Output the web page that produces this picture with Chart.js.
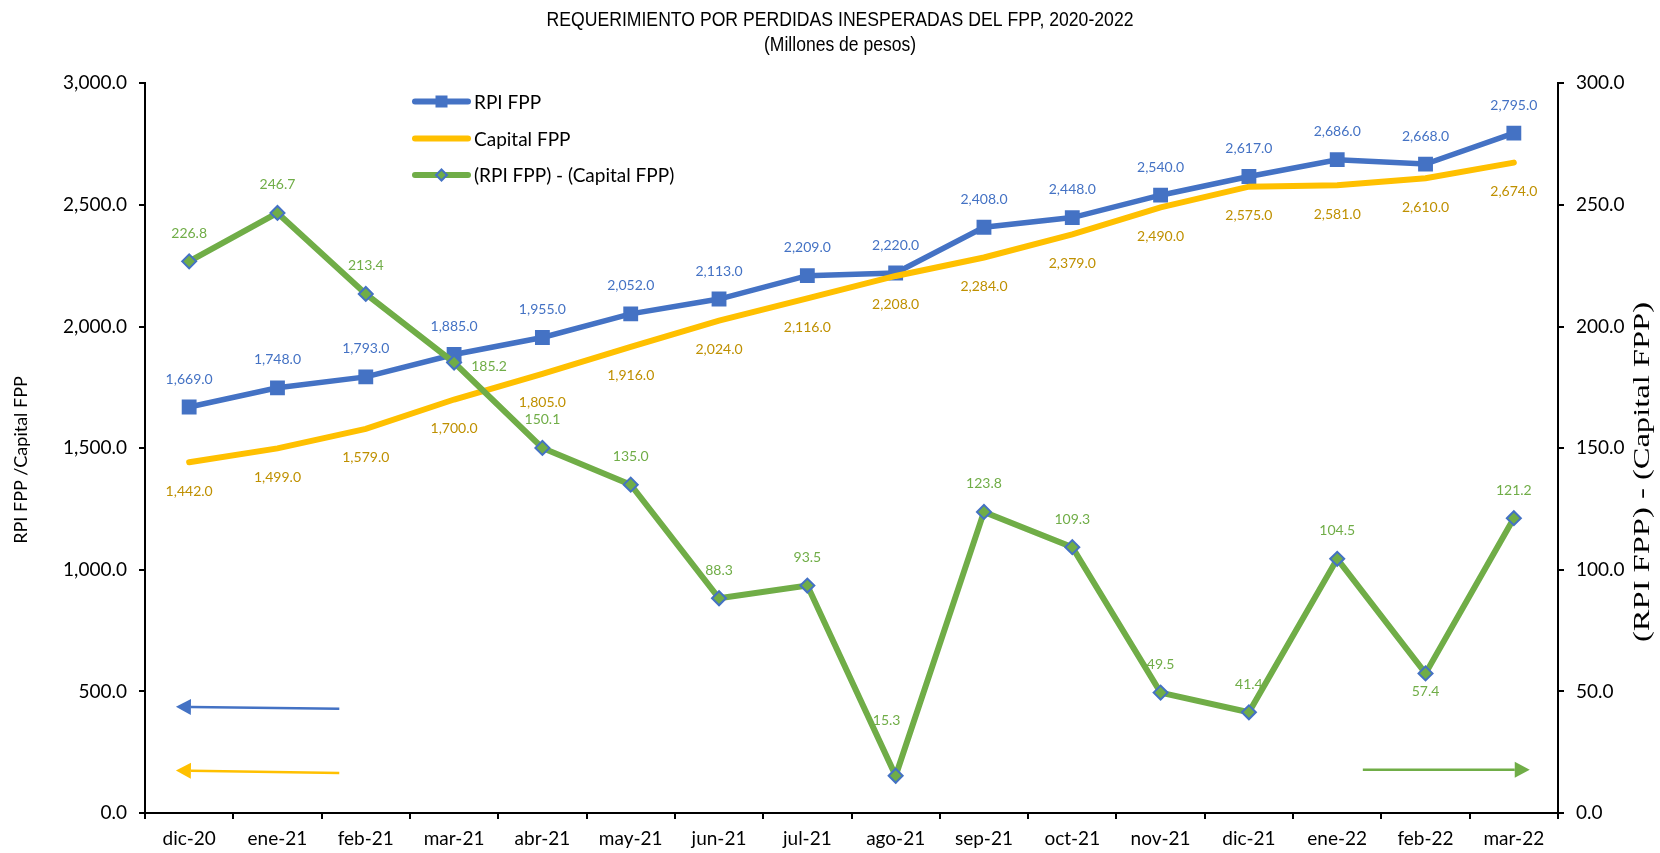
<!DOCTYPE html>
<html>
<head>
<meta charset="utf-8">
<script src="https://cdn.jsdelivr.net/npm/chart.js@4.4.1/dist/chart.umd.min.js"></script>
<style>
  html, body { margin: 0; padding: 0; background: #ffffff; }
  #wrap { width: 1660px; height: 853px; position: relative; }
</style>
</head>
<body>
<div id="wrap"><canvas id="c" width="1660" height="853"></canvas></div>
<script>
// ---- Data ----
const categories = ['dic-20','ene-21','feb-21','mar-21','abr-21','may-21','jun-21','jul-21','ago-21','sep-21','oct-21','nov-21','dic-21','ene-22','feb-22','mar-22'];
const rpiFPP = [1669, 1748, 1793, 1885, 1955, 2052, 2113, 2209, 2220, 2408, 2448, 2540, 2617, 2686, 2668, 2795];
const capitalFPP = [1442, 1499, 1579, 1700, 1805, 1916, 2024, 2116, 2208, 2284, 2379, 2490, 2575, 2581, 2610, 2674];
const diffFPP = [226.8, 246.7, 213.4, 185.2, 150.1, 135.0, 88.3, 93.5, 15.3, 123.8, 109.3, 49.5, 41.4, 104.5, 57.4, 121.2];
const seriesNames = ['RPI FPP', 'Capital FPP', '(RPI FPP) - (Capital FPP)'];
const leftTicks = [0, 500, 1000, 1500, 2000, 2500, 3000];
const rightTicks = [0, 50, 100, 150, 200, 250, 300];
const titleText = 'REQUERIMIENTO POR PERDIDAS INESPERADAS DEL FPP, 2020-2022';
const subtitleText = '(Millones de pesos)';
const leftAxisTitle = 'RPI FPP /Capital FPP';
const rightAxisTitle = '(RPI FPP) - (Capital FPP)';

const BLUE = '#4472C4', GOLD = '#FFC000', GREEN = '#70AD47', GOLD_TXT = '#BF9000';
const FONT = 'Lato, "Open Sans", sans-serif';

const fmt = v => v.toLocaleString('en-US', {minimumFractionDigits: 1, maximumFractionDigits: 1});

// ---- Data label plugin ----
const labelPlugin = {
  id: 'valueLabels',
  afterDatasetsDraw(chart) {
    const ctx = chart.ctx;
    ctx.save();
    ctx.font = '14px ' + FONT;
    ctx.textAlign = 'center';
    ctx.textBaseline = 'middle';
    chart.data.datasets.forEach((ds, di) => {
      const meta = chart.getDatasetMeta(di);
      const lp = ds.labelPlacement || {};
      meta.data.forEach((pt, i) => {
        const place = (lp.special && lp.special[i]) || lp.def;
        let dx = 0, dy = 0;
        if (place === 'above') dy = -28;
        else if (place === 'below') dy = 29;
        else if (place === 'right') { dx = 35; dy = 4; }
        else if (place === 'belowNear') dy = 18;
        else if (place === 'aboveFar') { dx = -9; dy = -55; }
        ctx.fillStyle = ds.labelColor;
        ctx.fillText(fmt(ds.data[i]), pt.x + dx, pt.y + dy);
      });
    });
    ctx.restore();
  }
};

// ---- Title, legend, axis titles and arrows plugin ----
const decoPlugin = {
  id: 'deco',
  afterDraw(chart) {
    const ctx = chart.ctx;
    ctx.save();
    const fitText = (txt, cx, cy, font, targetW, rot) => {
      ctx.save();
      ctx.font = font;
      ctx.fillStyle = '#000';
      ctx.textAlign = 'center';
      ctx.textBaseline = 'middle';
      const w = ctx.measureText(txt).width;
      ctx.translate(cx, cy);
      if (rot) ctx.rotate(rot);
      ctx.scale(targetW / w, 1);
      ctx.fillText(txt, 0, 0);
      ctx.restore();
    };
    // Title (narrow sans)
    fitText(titleText, 840, 20.5, '20px "Liberation Sans", Arial, sans-serif', 587);
    fitText(subtitleText, 840, 45.5, '20px "Liberation Sans", Arial, sans-serif', 152);
    // Legend
    const rows = [
      {name: seriesNames[0], color: BLUE, marker: 'square', y: 101.5},
      {name: seriesNames[1], color: GOLD, marker: null, y: 138.5},
      {name: seriesNames[2], color: GREEN, marker: 'diamond', y: 175}
    ];
    rows.forEach(r => {
      ctx.strokeStyle = r.color;
      ctx.lineWidth = 6;
      ctx.lineCap = 'round';
      ctx.beginPath();
      ctx.moveTo(415, r.y); ctx.lineTo(468, r.y);
      ctx.stroke();
      if (r.marker === 'square') {
        ctx.fillStyle = BLUE;
        ctx.fillRect(441.5 - 6, r.y - 6, 12, 12);
      } else if (r.marker === 'diamond') {
        ctx.beginPath();
        ctx.moveTo(441.5, r.y - 5.5); ctx.lineTo(447, r.y); ctx.lineTo(441.5, r.y + 5.5); ctx.lineTo(436, r.y);
        ctx.closePath();
        ctx.fillStyle = GREEN; ctx.fill();
        ctx.lineWidth = 2; ctx.strokeStyle = BLUE; ctx.stroke();
      }
      ctx.fillStyle = '#000';
      ctx.font = '19px ' + FONT;
      ctx.textAlign = 'left';
      ctx.textBaseline = 'middle';
      ctx.fillText(r.name, 474, r.y + 1);
    });
    // Axis titles
    ctx.fillStyle = '#000';
    ctx.textAlign = 'center';
    ctx.textBaseline = 'middle';
    ctx.save();
    ctx.translate(21, 460);
    ctx.rotate(-Math.PI / 2);
    ctx.font = '18px ' + FONT;
    ctx.fillText(leftAxisTitle, 0, 0);
    ctx.restore();
    fitText(rightAxisTitle, 1643, 472, '24px "Liberation Serif", "Times New Roman", serif', 340, -Math.PI / 2);
    // Arrows indicating axes
    const x = chart.scales.x, yl = chart.scales.y, yr = chart.scales.y1;
    const arrow = (x1, y1, x2, y2, color) => {
      const ang = Math.atan2(y2 - y1, x2 - x1);
      const hl = 15, hw = 8;
      const bx = x2 - hl * Math.cos(ang), by = y2 - hl * Math.sin(ang);
      ctx.strokeStyle = color; ctx.lineWidth = 2.5; ctx.lineCap = 'butt';
      ctx.beginPath(); ctx.moveTo(x1, y1); ctx.lineTo(bx, by); ctx.stroke();
      ctx.fillStyle = color;
      ctx.beginPath();
      ctx.moveTo(x2, y2);
      ctx.lineTo(bx - hw * Math.sin(ang), by + hw * Math.cos(ang));
      ctx.lineTo(bx + hw * Math.sin(ang), by - hw * Math.cos(ang));
      ctx.closePath(); ctx.fill();
    };
    arrow(x.getPixelForValue(1.7), yl.getPixelForValue(429), x.getPixelForValue(-0.15), yl.getPixelForValue(437), BLUE);
    arrow(x.getPixelForValue(1.7), yl.getPixelForValue(164), x.getPixelForValue(-0.15), yl.getPixelForValue(175), GOLD);
    arrow(x.getPixelForValue(13.29), yr.getPixelForValue(17.8), x.getPixelForValue(15.18), yr.getPixelForValue(17.8), GREEN);
    ctx.restore();
  }
};

const tickFont = {family: FONT, size: 19};

new Chart(document.getElementById('c'), {
  type: 'line',
  data: {
    labels: categories,
    datasets: [
      {
        label: seriesNames[0], data: rpiFPP, yAxisID: 'y', order: 2,
        borderColor: BLUE, backgroundColor: BLUE, borderWidth: 5.5,
        pointStyle: 'rect', pointRadius: 10.5, pointBackgroundColor: BLUE, pointBorderColor: BLUE, pointBorderWidth: 0,
        tension: 0, labelColor: BLUE, labelPlacement: {def: 'above'}
      },
      {
        label: seriesNames[1], data: capitalFPP, yAxisID: 'y', order: 1,
        borderColor: GOLD, backgroundColor: GOLD, borderWidth: 6, pointRadius: 0,
        borderCapStyle: 'round', tension: 0, labelColor: GOLD_TXT, labelPlacement: {def: 'below'}
      },
      {
        label: seriesNames[2], data: diffFPP, yAxisID: 'y1', order: 0,
        borderColor: GREEN, backgroundColor: GREEN, borderWidth: 6,
        pointStyle: 'rectRot', pointRadius: 7, pointBackgroundColor: GREEN, pointBorderColor: BLUE, pointBorderWidth: 2,
        tension: 0, labelColor: GREEN,
        labelPlacement: {def: 'above', special: {3: 'right', 8: 'aboveFar', 14: 'belowNear'}}
      }
    ]
  },
  options: {
    responsive: false,
    animation: false,
    devicePixelRatio: 1,
    layout: {padding: {left: 20, right: 0, top: 83.3, bottom: 0}},
    plugins: {
      legend: {display: false},
      tooltip: {enabled: false},
      title: {display: false},
      subtitle: {display: false}
    },
    scales: {
      x: {
        offset: true,
        grid: {display: true, drawOnChartArea: false, drawTicks: true, tickLength: 6, offset: true, color: '#000', lineWidth: 2},
        border: {display: true, color: '#000', width: 2},
        ticks: {color: '#000', font: tickFont, padding: 8, maxRotation: 0, autoSkip: false},
        afterFit(s) { s.height = 40; }
      },
      y: {
        position: 'left', min: 0, max: 3000,
        afterBuildTicks(s) { s.ticks = leftTicks.map(v => ({value: v})); },
        grid: {display: true, drawOnChartArea: false, drawTicks: true, tickLength: 6, color: '#000', lineWidth: 2},
        border: {display: true, color: '#000', width: 2},
        ticks: {color: '#000', font: tickFont, padding: 12, callback: v => fmt(v)},
        afterFit(s) { s.width = 125; }
      },
      y1: {
        position: 'right', min: 0, max: 300,
        afterBuildTicks(s) { s.ticks = rightTicks.map(v => ({value: v})); },
        grid: {display: true, drawOnChartArea: false, drawTicks: true, tickLength: 6, color: '#000', lineWidth: 2},
        border: {display: true, color: '#000', width: 2},
        ticks: {color: '#000', font: tickFont, padding: 12, callback: v => fmt(v)},
        afterFit(s) { s.width = 102; }
      }
    }
  },
  plugins: [labelPlugin, decoPlugin]
});
</script>
</body>
</html>
